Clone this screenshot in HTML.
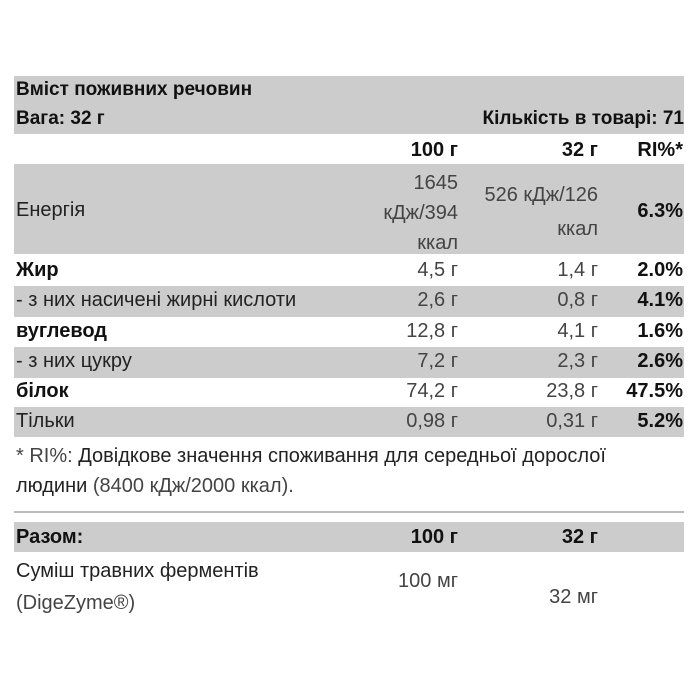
<!DOCTYPE html>
<html><head><meta charset="utf-8"><style>
body{margin:0;width:700px;height:700px;background:#fff;font-family:"Liberation Sans","DejaVu Sans",sans-serif;font-size:20px;color:#222;position:relative;overflow:hidden}
.g{position:absolute;left:14px;width:670px;background:#cccccc}
.t{position:absolute;white-space:nowrap;line-height:22px}
.b{font-weight:bold;color:#111}
.r{text-align:right}
.l{color:#444}
</style></head><body>
<div class="g" style="top:76px;height:58px"></div>
<div class="g" style="top:164px;height:90px"></div>
<div class="g" style="top:286px;height:31px"></div>
<div class="g" style="top:347px;height:31px"></div>
<div class="g" style="top:407px;height:30px"></div>
<div style="position:absolute;left:14px;width:670px;top:511px;height:2px;background:#bbb"></div>
<div class="g" style="top:522px;height:30px"></div>

<div class="t b" style="left:16px;top:79px;font-size:19px">Вміст поживних речовин</div>
<div class="t b" style="left:16px;top:108px;font-size:19px">Вага: 32 г</div>
<div class="t b r" style="right:16px;top:108px;font-size:19px">Кількість в товарі: 71</div>

<div class="t b r" style="right:242px;top:139px">100 г</div>
<div class="t b r" style="right:102px;top:139px">32 г</div>
<div class="t b r" style="right:17px;top:139px">RI%*</div>

<div class="t" style="left:16px;top:199px">Енергія</div>
<div class="t r l" style="right:242px;top:168px;line-height:30px">1645<br>кДж/394<br>ккал</div>
<div class="t r l" style="right:102px;top:178px;line-height:34px">526 кДж/126<br>ккал</div>
<div class="t b r" style="right:17px;top:200px">6.3%</div>

<div class="t b" style="left:16px;top:259px">Жир</div>
<div class="t r l" style="right:242px;top:259px">4,5 г</div>
<div class="t r l" style="right:102px;top:259px">1,4 г</div>
<div class="t b r" style="right:17px;top:259px">2.0%</div>

<div class="t" style="left:16px;top:289px">- з них насичені жирні кислоти</div>
<div class="t r l" style="right:242px;top:289px">2,6 г</div>
<div class="t r l" style="right:102px;top:289px">0,8 г</div>
<div class="t b r" style="right:17px;top:289px">4.1%</div>

<div class="t b" style="left:16px;top:320px">вуглевод</div>
<div class="t r l" style="right:242px;top:320px">12,8 г</div>
<div class="t r l" style="right:102px;top:320px">4,1 г</div>
<div class="t b r" style="right:17px;top:320px">1.6%</div>

<div class="t" style="left:16px;top:350px">- з них цукру</div>
<div class="t r l" style="right:242px;top:350px">7,2 г</div>
<div class="t r l" style="right:102px;top:350px">2,3 г</div>
<div class="t b r" style="right:17px;top:350px">2.6%</div>

<div class="t b" style="left:16px;top:380px">білок</div>
<div class="t r l" style="right:242px;top:380px">74,2 г</div>
<div class="t r l" style="right:102px;top:380px">23,8 г</div>
<div class="t b r" style="right:17px;top:380px">47.5%</div>

<div class="t" style="left:16px;top:410px">Тільки</div>
<div class="t r l" style="right:242px;top:410px">0,98 г</div>
<div class="t r l" style="right:102px;top:410px">0,31 г</div>
<div class="t b r" style="right:17px;top:410px">5.2%</div>

<div class="t" style="left:16px;top:441px;line-height:30px"><span class="l">* RI%:</span> Довідкове значення споживання для середньої дорослої<br>людини <span class="l">(8400 кДж/2000 ккал).</span></div>

<div class="t b" style="left:16px;top:526px">Разом:</div>
<div class="t b r" style="right:242px;top:526px">100 г</div>
<div class="t b r" style="right:102px;top:526px">32 г</div>

<div class="t" style="left:16px;top:555px;line-height:32px">Суміш травних ферментів<br><span class="l">(DigeZyme®)</span></div>
<div class="t r l" style="right:242px;top:570px">100 мг</div>
<div class="t r l" style="right:102px;top:586px">32 мг</div>
</body></html>
